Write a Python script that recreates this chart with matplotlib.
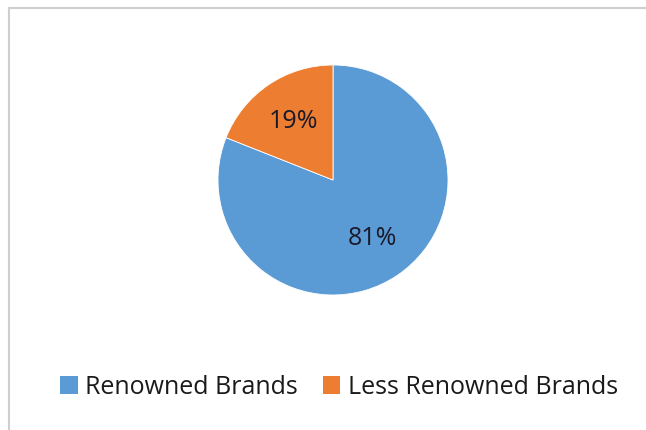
import matplotlib.pyplot as plt
from matplotlib.lines import Line2D
from matplotlib.patches import Patch

labels = ["Renowned Brands", "Less Renowned Brands"]
shares = [81, 19]
colors = ["#5B9BD5", "#ED7D31"]

plt.rcParams["font.family"] = ["Open Sans", "DejaVu Sans"]

fig = plt.figure(figsize=(6.46, 4.30), dpi=100)
fig.patch.set_facecolor("white")

# light grey frame (top and left edges visible)
W, H = 646, 430
fig.add_artist(Line2D([9 / W, 1], [1 - 8 / H, 1 - 8 / H], color="#cfcfcf", lw=1.5))
fig.add_artist(Line2D([9 / W, 9 / W], [0, 1 - 8 / H], color="#cfcfcf", lw=1.5))

ax = fig.add_axes([(333 - 115) / W, (430 - 295) / H, 230 / W, 230 / H])
wedges, texts, autotexts = ax.pie(
    shares, colors=colors, startangle=90, counterclock=False,
    autopct="%d%%", pctdistance=0.61,
    wedgeprops=dict(edgecolor="white", linewidth=0.6),
    textprops=dict(fontsize=18, color="#1a1a2a"))
ax.set_xlim(-1, 1)
ax.set_ylim(-1, 1)
ax.set_aspect("equal")

handles = [Patch(facecolor=c, edgecolor="none") for c in colors]
fig.legend(handles, labels, loc="center", bbox_to_anchor=(339 / W, 1 - 387 / H),
           ncol=2, frameon=False, fontsize=18, handlelength=0.7, handleheight=0.7,
           handletextpad=0.3, columnspacing=1.0, labelcolor="#1a1a1a")

fig.savefig("out.png", dpi=100)
